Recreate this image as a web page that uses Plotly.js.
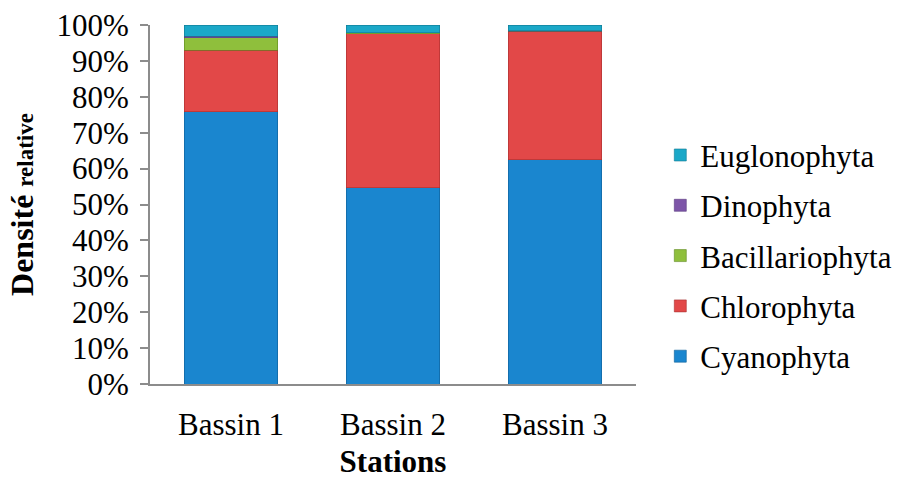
<!DOCTYPE html>
<html>
<head>
<meta charset="utf-8">
<script src="https://cdn.plot.ly/plotly-3.0.1.min.js"></script>
<style>html,body{margin:0;padding:0;background:#fff;}#chart{width:903px;height:479px;}</style>
</head>
<body>
<div id="chart"></div>
<script>
var stations = ["Bassin 1", "Bassin 2", "Bassin 3"];
var cyanophyta = [0.758, 0.546, 0.624];
var chlorophyta = [0.172, 0.429, 0.357];
var bacillariophyta = [0.035, 0.003, 0.002];
var dinophyta = [0.004, 0.001, 0.001];
var euglenophyta = [0.031, 0.021, 0.016];
var yTicks = [0, 0.1, 0.2, 0.3, 0.4, 0.5, 0.6, 0.7, 0.8, 0.9, 1.0];
var yTickLabels = ["0%", "10%", "20%", "30%", "40%", "50%", "60%", "70%", "80%", "90%", "100%"];

var series = [
  {name: "Cyanophyta", y: cyanophyta, color: "#1a86cf", line: "#0f5f96"},
  {name: "Chlorophyta", y: chlorophyta, color: "#e24848", line: "#a83030"},
  {name: "Bacillariophyta", y: bacillariophyta, color: "#8fbf3c", line: "#5f8a22"},
  {name: "Dinophyta", y: dinophyta, color: "#7d55a8", line: "#5a3a80"},
  {name: "Euglonophyta", y: euglenophyta, color: "#1ba8c8", line: "#117a93"}
];

var serif = "Liberation Serif, Times New Roman, serif";

var traces = series.map(function (s, i) {
  return {
    type: "bar",
    name: s.name,
    x: stations,
    y: s.y,
    legendgroup: s.name,
    legendrank: 1000 - i,
    marker: {color: s.color, line: {color: s.line, width: 0.6}},
    hoverinfo: "x+y+name"
  };
});

var layout = {
  width: 903,
  height: 479,
  margin: {l: 150, r: 267, t: 25, b: 95, autoexpand: false},
  barmode: "stack",
  bargap: 0.425,
  paper_bgcolor: "#fff",
  plot_bgcolor: "#fff",
  font: {family: serif, color: "#000", size: 31},
  showlegend: true,
  legend: {
    traceorder: "grouped",
    x: 1.05,
    xanchor: "left",
    y: 0.357,
    yanchor: "middle",
    font: {size: 31, family: serif, color: "#000"},
    tracegroupgap: 7,
    itemwidth: 30
  },
  xaxis: {
    type: "category",
    range: [-0.5, 2.5],
    showline: true,
    linecolor: "#8c8c8c",
    linewidth: 2,
    ticks: "",
    ticklabelstandoff: 12,
    tickfont: {size: 31, family: serif, color: "#000"},
    title: {text: "<b>Stations</b>", font: {size: 31, family: serif, color: "#000"}, standoff: 13},
    showgrid: false,
    zeroline: false,
    fixedrange: true
  },
  yaxis: {
    range: [0, 1],
    tickvals: yTicks,
    ticktext: yTickLabels,
    showline: true,
    linecolor: "#8c8c8c",
    linewidth: 2,
    ticks: "outside",
    ticklen: 8,
    tickwidth: 2,
    tickcolor: "#8c8c8c",
    ticklabelstandoff: 5,
    tickfont: {size: 31, family: serif, color: "#000"},
    title: {text: "<b>Densité <span style='font-size:23px'>relative</span></b>", font: {size: 32, family: serif, color: "#000"}, standoff: 13},
    showgrid: false,
    zeroline: false,
    fixedrange: true
  }
};

Plotly.newPlot("chart", traces, layout, {displayModeBar: false, staticPlot: true});
</script>
</body>
</html>
